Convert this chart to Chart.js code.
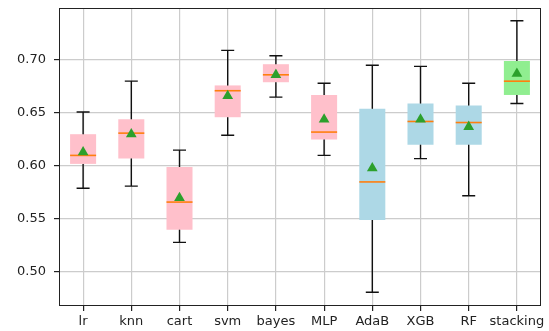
<!DOCTYPE html>
<html>
<head>
<meta charset="utf-8">
<script src="https://cdn.jsdelivr.net/npm/chart.js@4.4.1/dist/chart.umd.min.js"></script>
<style>
  html, body { margin: 0; padding: 0; background: #fff; }
  canvas { display: block; }
</style>
</head>
<body>
<canvas id="box" width="549" height="331"></canvas>
<script>
// model names and box plot stats
const models = ["lr", "knn", "cart", "svm", "bayes", "MLP", "AdaB", "XGB", "RF", "stacking"];
const whiskLow = [0.579, 0.581, 0.528, 0.629, 0.665, 0.610, 0.481, 0.607, 0.572, 0.659];
const q1       = [0.602, 0.607, 0.540, 0.646, 0.679, 0.625, 0.549, 0.620, 0.620, 0.667];
const median   = [0.610, 0.631, 0.566, 0.671, 0.686, 0.632, 0.585, 0.642, 0.641, 0.680];
const q3       = [0.630, 0.644, 0.599, 0.676, 0.696, 0.667, 0.654, 0.659, 0.657, 0.699];
const whiskHigh= [0.651, 0.680, 0.615, 0.709, 0.704, 0.678, 0.695, 0.694, 0.678, 0.737];
const means    = [0.613, 0.630, 0.570, 0.666, 0.686, 0.644, 0.598, 0.644, 0.637, 0.687];
const yTicks = [0.50, 0.55, 0.60, 0.65, 0.70];

const boxColors = ["pink", "pink", "pink", "pink", "pink", "pink",
  "lightblue", "lightblue", "lightblue", "lightgreen"];

const font = { family: "DejaVu Sans", size: 13 };

// whiskers, caps and median lines on top of the boxes
const boxExtras = {
  id: "boxExtras",
  afterDatasetDraw(chart, args) {
    if (args.meta.type !== "bar") return;
    const { ctx, scales: { x, y } } = chart;
    const bars = args.meta.data;
    ctx.save();
    models.forEach((_, i) => {
      const cx = x.getPixelForValue(i);
      const half = bars[i].width / 2;
      const cap = half / 2;
      ctx.strokeStyle = "#111";
      ctx.lineWidth = 1.4;
      ctx.beginPath();
      ctx.moveTo(cx, y.getPixelForValue(q3[i]));
      ctx.lineTo(cx, y.getPixelForValue(whiskHigh[i]));
      ctx.moveTo(cx, y.getPixelForValue(q1[i]));
      ctx.lineTo(cx, y.getPixelForValue(whiskLow[i]));
      ctx.moveTo(cx - cap, y.getPixelForValue(whiskHigh[i]));
      ctx.lineTo(cx + cap, y.getPixelForValue(whiskHigh[i]));
      ctx.moveTo(cx - cap, y.getPixelForValue(whiskLow[i]));
      ctx.lineTo(cx + cap, y.getPixelForValue(whiskLow[i]));
      ctx.stroke();
      ctx.strokeStyle = "#ff7f0e";
      ctx.lineWidth = 1.6;
      ctx.beginPath();
      ctx.moveTo(cx - half, y.getPixelForValue(median[i]));
      ctx.lineTo(cx + half, y.getPixelForValue(median[i]));
      ctx.stroke();
    });
    ctx.restore();
  },
  afterDraw(chart) {
    const { ctx, chartArea: a } = chart;
    ctx.save();
    ctx.strokeStyle = "#222";
    ctx.lineWidth = 1;
    ctx.strokeRect(a.left + 0.5, a.top + 0.5, a.right - a.left - 1, a.bottom - a.top - 1);
    ctx.restore();
  }
};

new Chart(document.getElementById("box"), {
  type: "bar",
  data: {
    labels: models,
    datasets: [
      {
        type: "line",
        data: means,
        showLine: false,
        pointStyle: "triangle",
        pointRadius: 6.2,
        backgroundColor: "#2ca02c",
        borderColor: "#2ca02c",
        borderWidth: 0,
        order: 1
      },
      {
        type: "bar",
        data: models.map((_, i) => [q1[i], q3[i]]),
        backgroundColor: boxColors,
        borderWidth: 0,
        borderSkipped: false,
        barPercentage: 0.54,
        categoryPercentage: 1,
        order: 2
      }
    ]
  },
  options: {
    responsive: false,
    animation: false,
    layout: { padding: { top: 8, right: 8, left: 0, bottom: 0 } },
    plugins: { legend: { display: false }, tooltip: { enabled: false } },
    scales: {
      x: {
        offset: true,
        grid: { offset: false, color: "#cccccc", lineWidth: 1.2, tickLength: 5, tickColor: "#222" },
        border: { display: false },
        ticks: { font, color: "#222", padding: 3, maxRotation: 0, minRotation: 0, autoSkip: false },
        afterFit(s) { s.height = 25; s.paddingLeft = 0; s.paddingRight = 0; }
      },
      y: {
        min: 0.468,
        max: 0.749,
        afterBuildTicks(s) { s.ticks = yTicks.map(v => ({ value: v })); },
        grid: { color: "#cccccc", lineWidth: 1.2, tickLength: 5, tickColor: "#222" },
        border: { display: false },
        ticks: { font, color: "#222", padding: 8, callback: v => v.toFixed(2) },
        afterFit(s) { s.width = 59; s.paddingTop = 0; s.paddingBottom = 0; }
      }
    }
  },
  plugins: [boxExtras]
});
</script>
</body>
</html>
